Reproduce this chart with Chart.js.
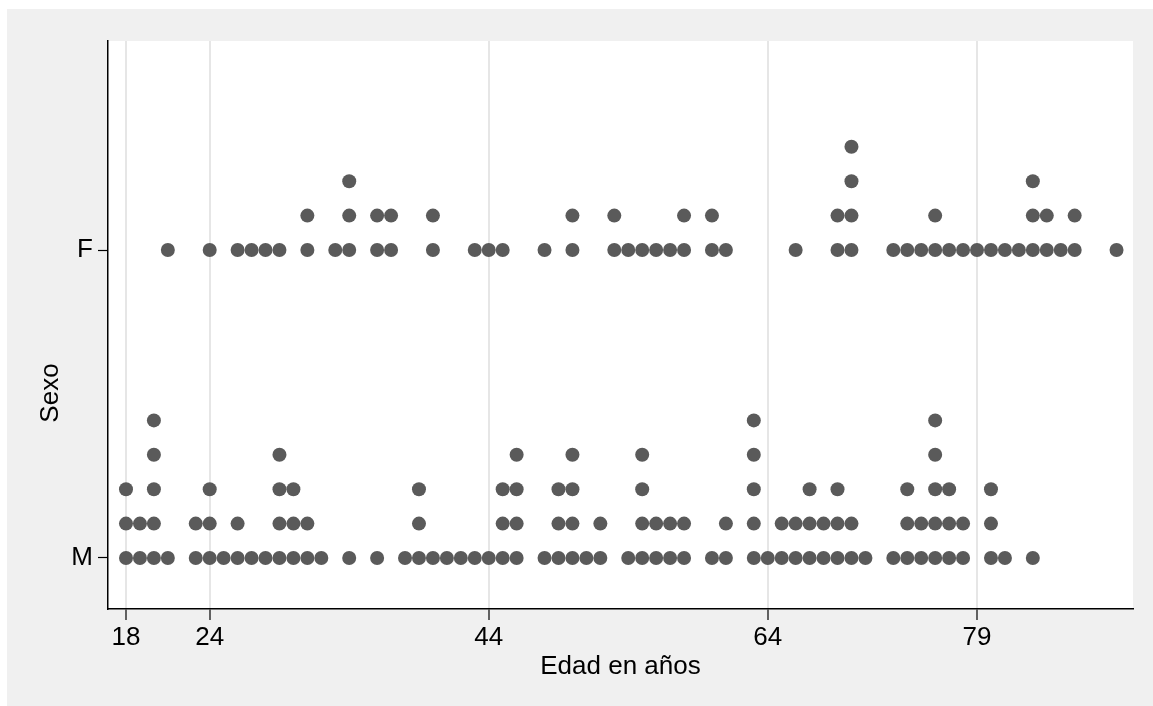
<!DOCTYPE html>
<html lang="es">
<head>
    <meta charset="UTF-8">
    <title>Edad por sexo</title>
    <script src="https://cdn.jsdelivr.net/npm/chart.js"></script>
    <style>
        body {
            margin: 0;
            background: #ffffff;
        }
        #frame {
            position: absolute;
            left: 7px;
            top: 9px;
            width: 1146px;
            height: 697px;
            background: #f0f0f0;
        }
    </style>
</head>
<body>
    <div id="frame">
        <canvas id="dotChart" width="1146" height="697"></canvas>
    </div>

    <script>
        // Categories and tick labels
        const sexos = ['M', 'F'];
        const edadTicks = [18, 24, 44, 64, 79];

        // Hombres: edad y número de casos
        const edadM = [18, 19, 20, 21, 23, 24, 25, 26, 27, 28, 29, 30, 31, 32, 34, 36, 38, 39, 40, 41, 42, 43, 44, 45, 46, 48, 49, 50, 51, 52, 54, 55, 56, 57, 58, 60, 61, 63, 64, 65, 66, 67, 68, 69, 70, 71, 73, 74, 75, 76, 77, 78, 80, 81, 83];
        const casosM = [3, 2, 5, 1, 2, 3, 1, 2, 1, 1, 4, 3, 2, 1, 1, 1, 1, 3, 1, 1, 1, 1, 1, 3, 4, 1, 3, 4, 1, 2, 1, 4, 2, 2, 2, 1, 2, 5, 1, 2, 2, 3, 2, 3, 2, 1, 1, 3, 2, 5, 3, 2, 3, 1, 1];

        // Mujeres: edad y número de casos
        const edadF = [21, 24, 26, 27, 28, 29, 31, 33, 34, 36, 37, 40, 43, 44, 45, 48, 50, 53, 54, 55, 56, 57, 58, 60, 61, 66, 69, 70, 73, 74, 75, 76, 77, 78, 79, 80, 81, 82, 83, 84, 85, 86, 89];
        const casosF = [1, 1, 1, 1, 1, 1, 2, 1, 3, 2, 2, 2, 1, 1, 1, 1, 2, 2, 1, 1, 1, 1, 2, 2, 1, 1, 2, 4, 1, 1, 1, 2, 1, 1, 1, 1, 1, 1, 3, 2, 1, 2, 1];

        // vertical gap between stacked dots, in y-axis units
        const PASO = 0.1117;

        // one point per case, piled up above the row of its sex
        function apilar(edades, casos, fila) {
            const puntos = [];
            edades.forEach((edad, i) => {
                for (let k = 0; k < casos[i]; k++) {
                    puntos.push({ x: edad, y: fila + k * PASO });
                }
            });
            return puntos;
        }

        const fuente = { family: "'Liberation Sans', Arial, Helvetica, sans-serif", size: 26 };
        const gris = '#5a5a5a';

        // white plot region + rotated y title
        const fondoPlot = {
            id: 'fondoPlot',
            beforeDraw(chart) {
                const { ctx, chartArea: a } = chart;
                ctx.save();
                ctx.fillStyle = '#ffffff';
                ctx.fillRect(a.left, a.top, a.right - a.left, a.bottom - a.top);
                ctx.restore();
            },
            afterDraw(chart) {
                const ctx = chart.ctx;
                ctx.save();
                ctx.translate(44, 384);
                ctx.rotate(-Math.PI / 2);
                ctx.font = `${fuente.size}px ${fuente.family}`;
                ctx.fillStyle = '#000';
                ctx.textAlign = 'center';
                ctx.textBaseline = 'middle';
                ctx.fillText('Sexo', 0, 0);
                ctx.restore();
            }
        };

        const ctx = document.getElementById('dotChart').getContext('2d');
        new Chart(ctx, {
            type: 'scatter',
            data: {
                datasets: [
                    { label: 'M', data: apilar(edadM, casosM, 0) },
                    { label: 'F', data: apilar(edadF, casosF, 1) }
                ]
            },
            options: {
                responsive: false,
                animation: false,
                layout: { padding: { left: 0, top: 32, right: 20, bottom: 22 } },
                elements: {
                    point: { radius: 7, hoverRadius: 7, borderWidth: 0, backgroundColor: gris }
                },
                plugins: {
                    legend: { display: false },
                    tooltip: { enabled: false }
                },
                scales: {
                    x: {
                        type: 'linear',
                        min: 16.71,
                        max: 90.18,
                        afterBuildTicks: axis => { axis.ticks = edadTicks.map(v => ({ value: v })); },
                        afterFit: axis => { axis.height = 75; },
                        ticks: {
                            autoSkip: false,
                            maxRotation: 0,
                            padding: 2,
                            color: '#000',
                            font: fuente,
                            callback: v => String(v)
                        },
                        grid: {
                            color: '#e6e6e6',
                            lineWidth: 2,
                            tickColor: '#000',
                            tickWidth: 1.2,
                            tickLength: 11
                        },
                        border: { color: '#000', width: 1.5 },
                        title: {
                            display: true,
                            text: 'Edad en años',
                            color: '#000',
                            font: fuente,
                            padding: { top: 0, bottom: 2 }
                        }
                    },
                    y: {
                        type: 'linear',
                        min: -0.1656,
                        max: 1.6786,
                        afterBuildTicks: axis => { axis.ticks = sexos.map((s, i) => ({ value: i })); },
                        afterFit: axis => { axis.width = 101; },
                        ticks: {
                            autoSkip: false,
                            padding: 5,
                            color: '#000',
                            font: fuente,
                            callback: v => sexos[v]
                        },
                        grid: {
                            drawOnChartArea: false,
                            tickColor: '#000',
                            tickWidth: 1.2,
                            tickLength: 10
                        },
                        border: { color: '#000', width: 1.5 }
                    }
                }
            },
            plugins: [fondoPlot]
        });
    </script>
</body>
</html>
